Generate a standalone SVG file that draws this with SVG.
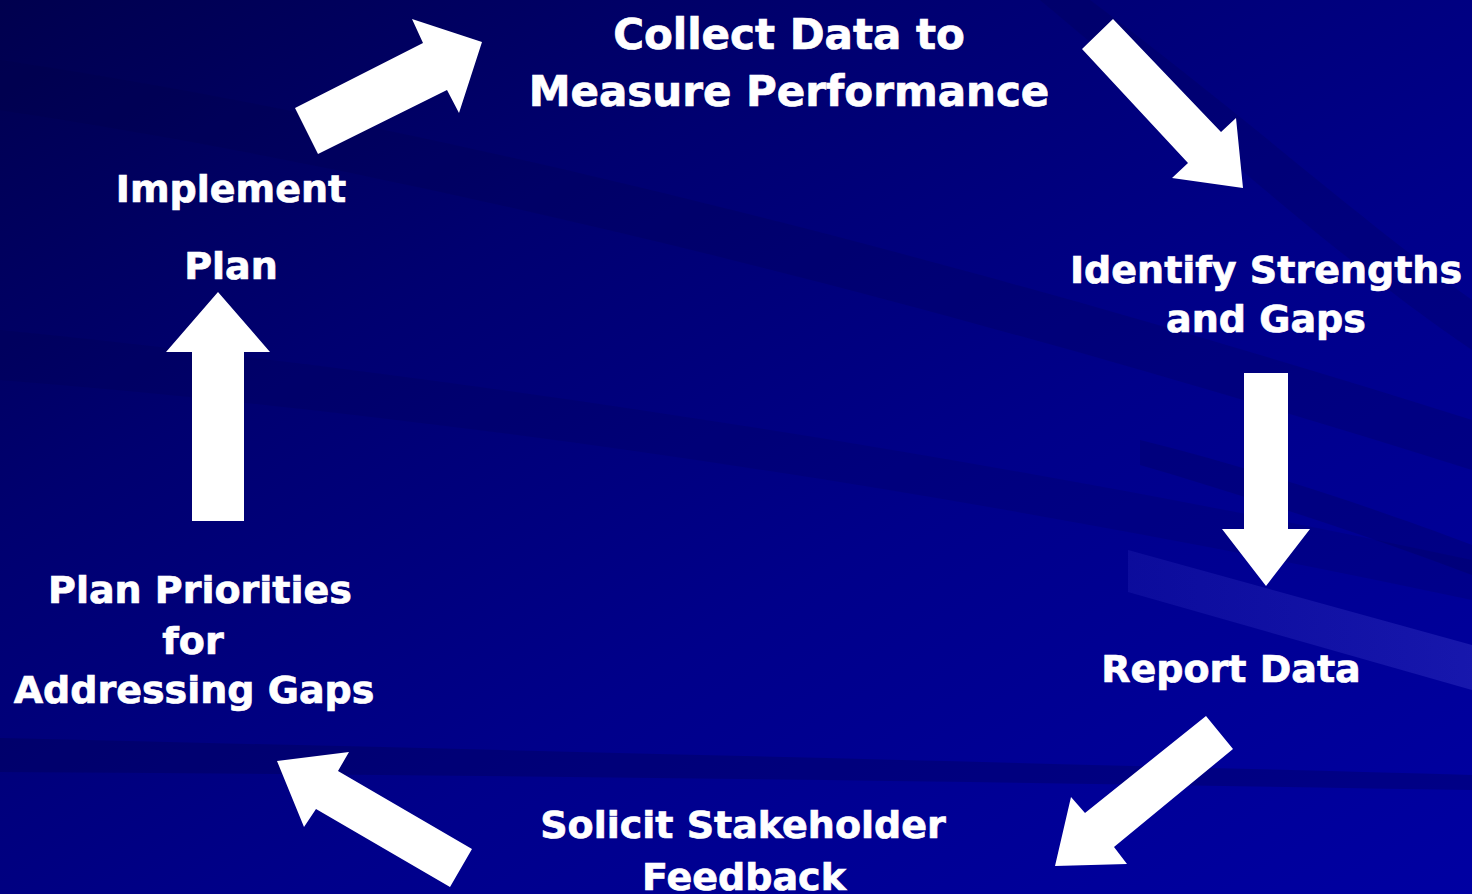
<svg xmlns="http://www.w3.org/2000/svg" width="1472" height="894" viewBox="0 0 1472 894">
  <defs>
    <linearGradient id="bg" x1="0" y1="0" x2="1" y2="1">
      <stop offset="0" stop-color="#00004E"/>
      <stop offset="0.3" stop-color="#000070"/>
      <stop offset="0.6" stop-color="#00008A"/>
      <stop offset="1" stop-color="#0000A2"/>
    </linearGradient>
    <linearGradient id="lite" x1="0" y1="0" x2="1" y2="0">
      <stop offset="0" stop-color="#4A4AD8" stop-opacity="0.16"/>
      <stop offset="1" stop-color="#5A5AE0" stop-opacity="0.26"/>
    </linearGradient>
    <style>
      .lbl { font-family: "DejaVu Sans", Verdana, sans-serif; font-weight: bold; fill: #FFFFFF; stroke: #FFFFFF; stroke-width: 0.7px; text-anchor: middle; }
      .big { font-size: 42px; }
      .med { font-size: 38px; }
      .arrow { fill: #FFFFFF; stroke: none; }
      .dark { fill: #000040; }
    </style>
  </defs>

  <g id="background">
    <rect x="0" y="0" width="1472" height="894" fill="url(#bg)"/>
    <path class="dark" opacity="0.18" d="M0,60 C400,120 900,240 1472,420 L1472,470 C900,290 400,170 0,110 Z"/>
    <path class="dark" opacity="0.14" d="M0,330 C500,380 1000,460 1472,560 L1472,600 C1000,500 500,420 0,380 Z"/>
    <path class="dark" opacity="0.16" d="M1090,0 C1250,120 1360,220 1472,300 L1472,350 C1340,260 1220,150 1040,0 Z"/>
    <path class="dark" opacity="0.2" d="M1140,440 C1260,470 1380,510 1472,545 L1472,575 C1380,540 1260,500 1140,465 Z"/>
    <path class="dark" opacity="0.25" d="M0,738 C500,750 1000,762 1472,775 L1472,790 C1000,782 500,775 0,772 Z"/>
    <polygon fill="url(#lite)" points="1128,550 1472,645 1472,690 1128,592"/>
  </g>

  <g id="connectors">
    <polygon class="arrow" points="295,108 423,43 412,19 482,42 459,113 447,90 318,154"/>
    <polygon class="arrow" points="1113,19 1221,132 1236,118 1243,188 1172,178 1188,163 1082,49"/>
    <polygon class="arrow" points="1244,373 1288,373 1288,529 1310,529 1266,586 1222,529 1244,529"/>
    <polygon class="arrow" points="1206,716 1233,749 1114,847 1127,864 1055,866 1071,797 1085,813"/>
    <polygon class="arrow" points="277,761 349,752 338,771 472,849 450,887 316,809 304,827"/>
    <polygon class="arrow" points="218,292 270,352 244,352 244,521 192,521 192,352 166,352"/>
  </g>

  <g id="node-collect">
    <text class="lbl big" x="789" y="49">Collect Data to</text>
    <text class="lbl big" x="789" y="106">Measure Performance</text>
  </g>
  <g id="node-identify">
    <text class="lbl med" x="1266" y="283">Identify Strengths</text>
    <text class="lbl med" x="1266" y="332">and Gaps</text>
  </g>
  <g id="node-report">
    <text class="lbl med" x="1231" y="682">Report Data</text>
  </g>
  <g id="node-solicit">
    <text class="lbl med" x="743" y="838">Solicit Stakeholder</text>
    <text class="lbl med" x="744" y="890">Feedback</text>
  </g>
  <g id="node-plan-priorities">
    <text class="lbl med" x="200" y="603">Plan Priorities</text>
    <text class="lbl med" x="193" y="654">for</text>
    <text class="lbl med" x="194" y="703">Addressing Gaps</text>
  </g>
  <g id="node-implement">
    <text class="lbl med" x="231" y="202">Implement</text>
    <text class="lbl med" x="231" y="279">Plan</text>
  </g>
</svg>
